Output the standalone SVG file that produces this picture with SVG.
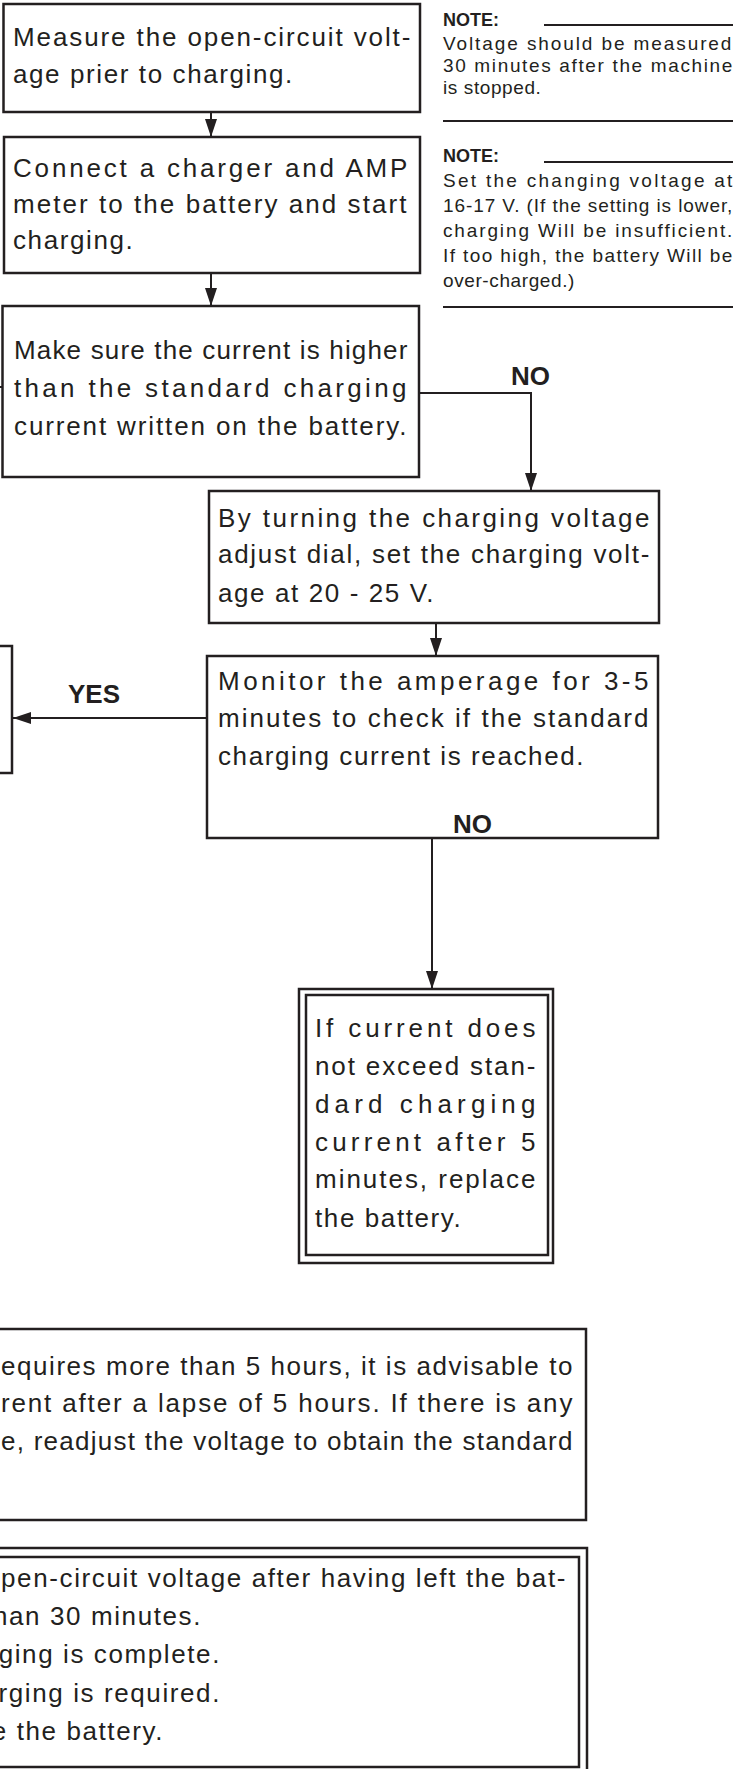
<svg xmlns="http://www.w3.org/2000/svg" width="744" height="1769" viewBox="0 0 744 1769">
<style>
.box{fill:#fff;stroke:#231f20;stroke-width:2.5}
.t{font-family:"Liberation Sans",Arial,sans-serif;font-size:26px;fill:#231f20;letter-spacing:1.6px}
.n{font-family:"Liberation Sans",Arial,sans-serif;font-size:19px;fill:#231f20;letter-spacing:0.6px}
.b{font-family:"Liberation Sans",Arial,sans-serif;font-weight:bold;fill:#231f20}
.conn{stroke:#231f20;stroke-width:2;fill:none}
.rule{stroke:#231f20;stroke-width:2}
</style>
<defs>
<marker id="ah" viewBox="0 0 18 12" refX="18" refY="6" markerWidth="18" markerHeight="12" markerUnits="userSpaceOnUse" orient="auto">
<path d="M0,0 L18,6 L0,12 z" fill="#231f20"/>
</marker>
</defs>
<rect width="744" height="1769" fill="#fff"/>

<g id="connectors">
<path class="conn" d="M211,112 V137" marker-end="url(#ah)"/>
<path class="conn" d="M211,273 V306" marker-end="url(#ah)"/>
<path class="conn" d="M419,393 H531 V491" marker-end="url(#ah)"/>
<path class="conn" d="M436,623 V656" marker-end="url(#ah)"/>
<path class="conn" d="M207,718 H13" marker-end="url(#ah)"/>
<path class="conn" d="M432,838 V989" marker-end="url(#ah)"/>
<path class="conn" d="M0,387 H3"/>
</g>

<g id="n1">
<rect class="box" x="3.5" y="4" width="416.5" height="108"/>
<text class="t" x="13" y="46" textLength="399" lengthAdjust="spacing">Measure the open-circuit volt-</text>
<text class="t" x="13" y="83">age prier to charging.</text>
</g>

<g id="n2">
<rect class="box" x="4" y="137" width="416" height="136"/>
<text class="t" x="13" y="177" textLength="396" lengthAdjust="spacing">Connect a charger and AMP</text>
<text class="t" x="13" y="213" textLength="395" lengthAdjust="spacing">meter to the battery and start</text>
<text class="t" x="13" y="249">charging.</text>
</g>

<g id="n3">
<rect class="box" x="2.5" y="306" width="416.5" height="171"/>
<text class="t" x="14" y="359" textLength="395" lengthAdjust="spacing">Make sure the current is higher</text>
<text class="t" x="14" y="397" textLength="394" lengthAdjust="spacing">than the standard charging</text>
<text class="t" x="14" y="435" textLength="394" lengthAdjust="spacing">current written on the battery.</text>
</g>

<g id="label-no1"><text class="b" x="511" y="385" font-size="26">NO</text></g>

<g id="n4">
<rect class="box" x="209" y="491" width="450" height="132"/>
<text class="t" x="218" y="527" textLength="433" lengthAdjust="spacing">By turning the charging voltage</text>
<text class="t" x="218" y="563" textLength="433" lengthAdjust="spacing">adjust dial, set the charging volt-</text>
<text class="t" x="218" y="602">age at 20 - 25 V.</text>
</g>

<g id="n5">
<rect class="box" x="207" y="656" width="451" height="182"/>
<text class="t" x="218" y="690" textLength="432" lengthAdjust="spacing">Monitor the amperage for 3-5</text>
<text class="t" x="218" y="727" textLength="432" lengthAdjust="spacing">minutes to check if the standard</text>
<text class="t" x="218" y="765">charging current is reached.</text>
<text class="b" x="453" y="833" font-size="26">NO</text>
</g>

<g id="label-yes"><text class="b" x="68" y="703" font-size="26">YES</text></g>

<g id="n-yes-target">
<rect class="box" x="-10" y="646" width="22" height="127"/>
</g>

<g id="n6">
<rect class="box" x="299" y="989" width="254" height="274"/>
<rect class="box" x="306" y="995" width="242" height="260"/>
<text class="t" x="315" y="1037" textLength="222" lengthAdjust="spacing">If current does</text>
<text class="t" x="315" y="1075" textLength="222" lengthAdjust="spacing">not exceed stan-</text>
<text class="t" x="315" y="1113" textLength="222" lengthAdjust="spacing">dard charging</text>
<text class="t" x="315" y="1151" textLength="222" lengthAdjust="spacing">current after 5</text>
<text class="t" x="315" y="1188" textLength="222" lengthAdjust="spacing">minutes, replace</text>
<text class="t" x="315" y="1227">the battery.</text>
</g>

<g id="note1">
<text class="b" x="443" y="26" font-size="18">NOTE:</text>
<line class="rule" x1="544" y1="25" x2="733" y2="25"/>
<text class="n" x="443" y="50" textLength="289" lengthAdjust="spacing">Voltage should be measured</text>
<text class="n" x="443" y="72" textLength="290" lengthAdjust="spacing">30 minutes after the machine</text>
<text class="n" x="443" y="94">is stopped.</text>
<line class="rule" x1="443" y1="121" x2="733" y2="121"/>
</g>

<g id="note2">
<text class="b" x="443" y="162" font-size="18">NOTE:</text>
<line class="rule" x1="544" y1="162" x2="733" y2="162"/>
<text class="n" x="443" y="187" textLength="290" lengthAdjust="spacing">Set the changing voltage at</text>
<text class="n" x="443" y="212" textLength="290" lengthAdjust="spacing">16-17 V. (If the setting is lower,</text>
<text class="n" x="443" y="237" textLength="290" lengthAdjust="spacing">charging Will be insufficient.</text>
<text class="n" x="443" y="262" textLength="290" lengthAdjust="spacing">If too high, the battery Will be</text>
<text class="n" x="443" y="287">over-charged.)</text>
<line class="rule" x1="443" y1="307" x2="733" y2="307"/>
</g>

<g id="n7">
<rect class="box" x="-10" y="1329" width="596" height="191"/>
<text class="t" x="1" y="1375" textLength="573" lengthAdjust="spacing">equires more than 5 hours, it is advisable to</text>
<text class="t" x="1" y="1412" textLength="573" lengthAdjust="spacing">rent after a lapse of 5 hours. If there is any</text>
<text class="t" x="1" y="1450" textLength="573" lengthAdjust="spacing">e, readjust the voltage to obtain the standard</text>
</g>

<g id="n8">
<rect class="box" x="-10" y="1548" width="597" height="240"/>
<rect class="box" x="-10" y="1557" width="589" height="210"/>
<text class="t" x="1" y="1587" textLength="566" lengthAdjust="spacing">pen-circuit voltage after having left the bat-</text>
<text class="t" x="202" y="1625" text-anchor="end">han 30 minutes.</text>
<text class="t" x="221" y="1663" text-anchor="end">ging is complete.</text>
<text class="t" x="221" y="1702" text-anchor="end">rging is required.</text>
<text class="t" x="164" y="1740" text-anchor="end">e the battery.</text>
</g>
</svg>
